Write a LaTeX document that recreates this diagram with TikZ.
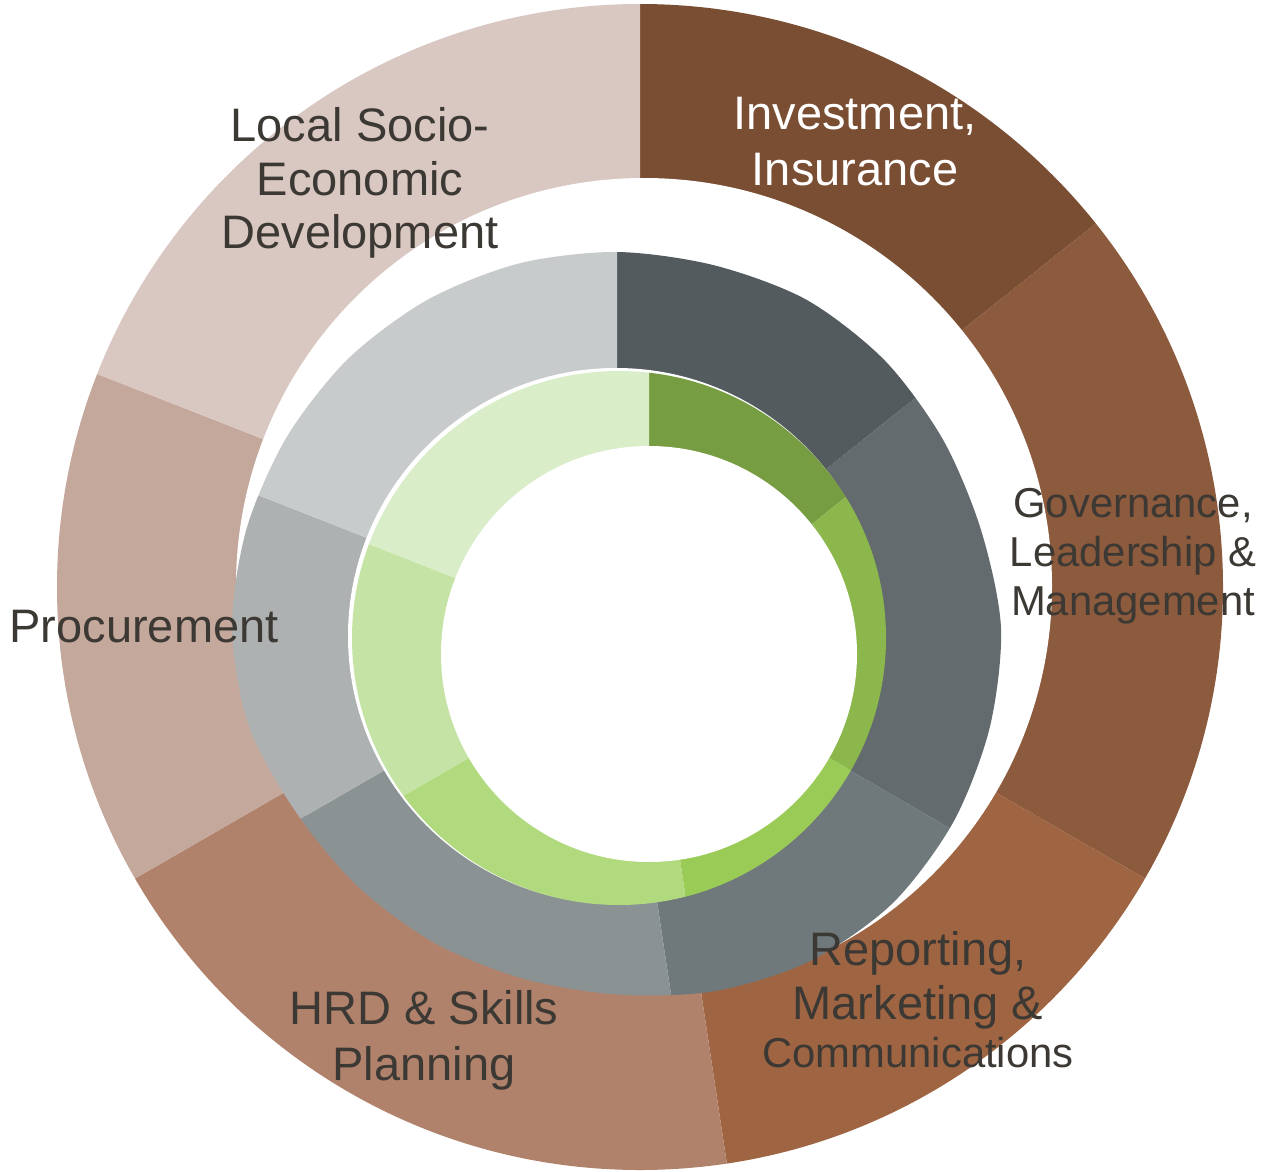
\documentclass[tikz,border=0pt]{standalone}
\usepackage{fontspec}
\setmainfont{Liberation Sans}
\definecolor{bA}{HTML}{7A4E33}
\definecolor{bB}{HTML}{8C5A3C}
\definecolor{bC}{HTML}{9F6542}
\definecolor{bD}{HTML}{B0826B}
\definecolor{bE}{HTML}{C5A89C}
\definecolor{bF}{HTML}{D9C7C1}
\definecolor{gA}{HTML}{545B5F}
\definecolor{gB}{HTML}{646B6F}
\definecolor{gC}{HTML}{6F787B}
\definecolor{gD}{HTML}{8A9294}
\definecolor{gE}{HTML}{AEB1B2}
\definecolor{gF}{HTML}{C8CBCC}
\definecolor{vA}{HTML}{779D42}
\definecolor{vB}{HTML}{8BB74D}
\definecolor{vC}{HTML}{9BCB57}
\definecolor{vD}{HTML}{B0DA7D}
\definecolor{vE}{HTML}{C5E3A5}
\definecolor{vF}{HTML}{D8EDC8}
\definecolor{txt}{RGB}{60,56,52}
\newcommand{\wedgefill}[5]{%
  \fill[#1] (#2,#3) -- ({#2+900*cos(#4)},{#3-900*sin(#4)})
    -- ({#2+900*cos((#4+#5)/2)},{#3-900*sin((#4+#5)/2)})
    -- ({#2+900*cos(#5)},{#3-900*sin(#5)}) -- cycle;}
\newcommand{\ringfill}[8]{% cx, cy, six colours
  \wedgefill{#3}{#1}{#2}{90}{38.57}
  \wedgefill{#4}{#1}{#2}{38.57}{-30}
  \wedgefill{#5}{#1}{#2}{-30}{-81.43}
  \wedgefill{#6}{#1}{#2}{-81.43}{-150}
  \wedgefill{#7}{#1}{#2}{-150}{-201.43}
  \wedgefill{#8}{#1}{#2}{-201.43}{-270}}
\begin{document}
\begin{tikzpicture}[x=0.5pt,y=-0.5pt,
  lbl/.style={anchor=base,inner sep=0pt,text=txt,font=\fontsize{23.5}{28}\selectfont},
  lblsmall/.style={lbl,font=\fontsize{20.9}{25}\selectfont},
  lblwhite/.style={lbl,text=white}]
\useasboundingbox (0,0) rectangle (1263,1172);
% outer ring
\begin{scope}
  \clip (640,587) circle[radius=583];
  \ringfill{640}{587}{bA}{bB}{bC}{bD}{bE}{bF}
\end{scope}
\fill[white] (644,586) circle[radius=408];
% middle ring
\begin{scope}
  \clip plot[smooth cycle] coordinates {
    ({617+384*cos(0)},{628-384*sin(0)})
    ({617+377*cos(15)},{628-377*sin(15)})
    ({617+376.5*cos(30)},{628-376.5*sin(30)})
    ({617+378.5*cos(45)},{628-378.5*sin(45)})
    ({617+379*cos(60)},{628-379*sin(60)})
    ({617+375.5*cos(75)},{628-375.5*sin(75)})
    ({617+376*cos(90)},{628-376*sin(90)})
    ({617+377.5*cos(105)},{628-377.5*sin(105)})
    ({617+379*cos(120)},{628-379*sin(120)})
    ({617+380.5*cos(135)},{628-380.5*sin(135)})
    ({617+381.5*cos(150)},{628-381.5*sin(150)})
    ({617+383.5*cos(165)},{628-383.5*sin(165)})
    ({617+385*cos(180)},{628-385*sin(180)})
    ({617+381*cos(195)},{628-381*sin(195)})
    ({617+370*cos(210)},{628-370*sin(210)})
    ({617+366*cos(225)},{628-366*sin(225)})
    ({617+364*cos(240)},{628-364*sin(240)})
    ({617+363*cos(255)},{628-363*sin(255)})
    ({617+366.5*cos(270)},{628-366.5*sin(270)})
    ({617+376*cos(285)},{628-376*sin(285)})
    ({617+385*cos(300)},{628-385*sin(300)})
    ({617+389.5*cos(315)},{628-389.5*sin(315)})
    ({617+388.3*cos(330)},{628-388.3*sin(330)})
    ({617+385.8*cos(345)},{628-385.8*sin(345)})};
  \ringfill{617}{636}{gA}{gB}{gC}{gD}{gE}{gF}
\end{scope}
\fill[white] (616,636) circle[radius=268];
% inner ring
\begin{scope}
  \clip (619,638) circle[radius=267];
  \ringfill{649}{654}{vA}{vB}{vC}{vD}{vE}{vF}
\end{scope}
\fill[white] (649,654) circle[radius=208];
% labels
\node[lblwhite] (inv1) at (855,130) {Investment,};
\node[lblwhite] (inv2) at (855,185) {Insurance};
\node[lblsmall] (gov1) at (1133,517.5) {Governance,};
\node[lblsmall] (gov2) at (1133,566) {Leadership \&};
\node[lblsmall] (gov3) at (1133,615) {Management};
\node[lbl] (rep1) at (918,965) {Reporting,};
\node[lbl] (rep2) at (918,1019) {Marketing \&};
\node[lblsmall] (rep3) at (918,1067) {Communications};
\node[lbl] (hrd1) at (424,1024) {HRD \& Skills};
\node[lbl] (hrd2) at (424,1080) {Planning};
\node[lbl] (proc) at (144,642.5) {Procurement};
\node[lbl] (loc1) at (360,141) {Local Socio-};
\node[lbl] (loc2) at (360,195) {Economic};
\node[lbl] (loc3) at (360,248) {Development};
\end{tikzpicture}
\end{document}
